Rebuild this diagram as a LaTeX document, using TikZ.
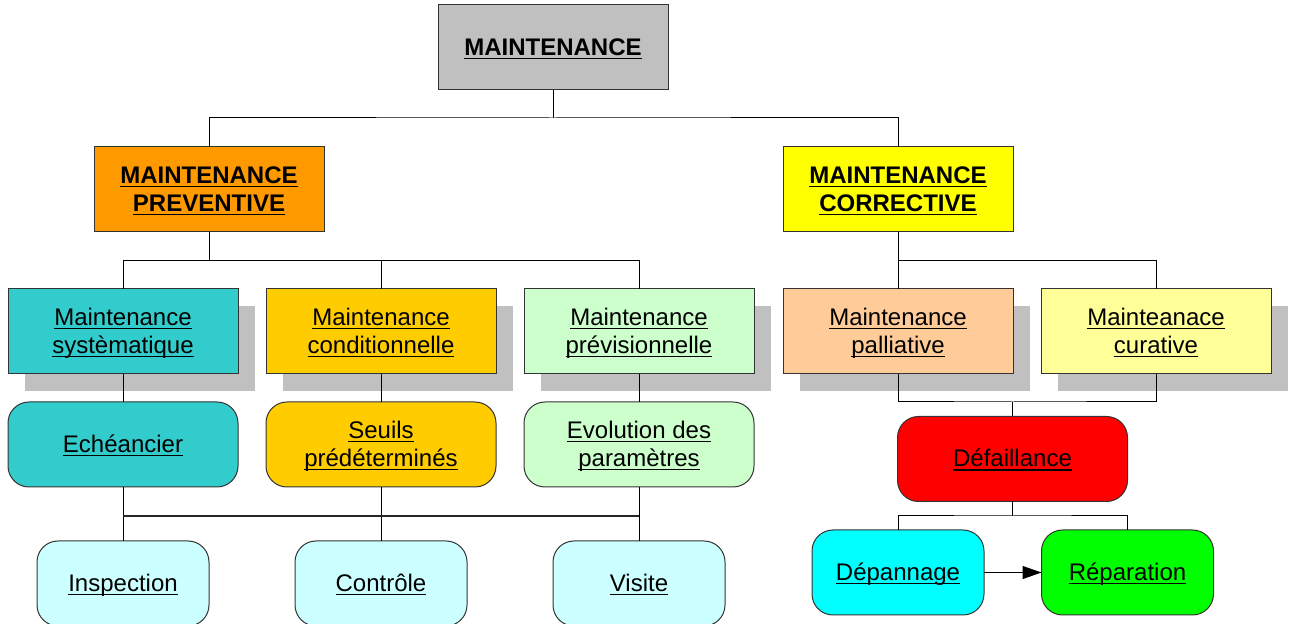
\documentclass[tikz,border=0pt]{standalone}
\usepackage{fontspec}
\setmainfont{Liberation Sans}
\usetikzlibrary{shadows,arrows.meta}
\definecolor{topgray}{HTML}{C0C0C0}
\definecolor{shadowgray}{HTML}{C0C0C0}
\definecolor{prevorange}{HTML}{FF9900}
\definecolor{corryellow}{HTML}{FFFF00}
\definecolor{systeal}{HTML}{33CCCC}
\definecolor{condgold}{HTML}{FFCC00}
\definecolor{prevgreen}{HTML}{CCFFCC}
\definecolor{pallpeach}{HTML}{FFCC99}
\definecolor{curlight}{HTML}{FFFF99}
\definecolor{defred}{HTML}{FF0000}
\definecolor{lightcyan}{HTML}{CCFFFF}
\definecolor{depcyan}{HTML}{00FFFF}
\definecolor{repgreen}{HTML}{00FF00}
\newcommand\ulin[1]{\setbox0=\hbox{#1}\rlap{\rule[-2.1pt]{\wd0}{0.75pt}}\box0\rule[-3.2pt]{0pt}{14pt}}
\begin{document}
\begin{tikzpicture}[x=0.5pt,y=-0.5pt,
  font=\fontsize{12}{14}\selectfont,
  box/.style={draw=black!80, line width=0.5pt, minimum width=115pt, minimum height=42.5pt,
    inner sep=0pt, outer sep=0pt, align=center},
  shad/.style={drop shadow={shadow xshift=8.5pt, shadow yshift=-8.5pt, fill=shadowgray, opacity=1, draw=none}},
  rbox/.style={box, rounded corners=10.5pt},
  narrow/.style={minimum width=86pt},
  conn/.style={draw=black, line width=0.5pt},
  bar/.style={draw=black!85, line width=1pt}]
\useasboundingbox (0,0) rectangle (1291,624);

% level 0 and 1
\node[box, fill=topgray] (top) at (553,47.5) {\bfseries\ulin{MAINTENANCE}};
\node[box, fill=prevorange] (prev) at (209,189.5) {\bfseries\ulin{MAINTENANCE}\\\bfseries\ulin{PREVENTIVE}};
\node[box, fill=corryellow] (corr) at (898,189.5) {\bfseries\ulin{MAINTENANCE}\\\bfseries\ulin{CORRECTIVE}};

% level 2
\node[box, shad, fill=systeal] (sys) at (123,331.5) {\ulin{Maintenance}\\\ulin{systèmatique}};
\node[box, shad, fill=condgold] (cond) at (381,331.5) {\ulin{Maintenance}\\\ulin{conditionnelle}};
\node[box, shad, fill=prevgreen] (previs) at (639,331.5) {\ulin{Maintenance}\\\ulin{prévisionnelle}};
\node[box, shad, fill=pallpeach] (pall) at (898,331.5) {\ulin{Maintenance}\\\ulin{palliative}};
\node[box, shad, fill=curlight] (cur) at (1156,331.5) {\ulin{Mainteanace}\\\ulin{curative}};

% level 3
\node[rbox, fill=systeal] (ech) at (123,444.5) {\ulin{Echéancier}};
\node[rbox, fill=condgold] (seu) at (381,444.5) {\ulin{Seuils}\\\ulin{prédéterminés}};
\node[rbox, fill=prevgreen] (evo) at (639,444.5) {\ulin{Evolution des}\\\ulin{paramètres}};
\node[rbox, fill=defred] (def) at (1012.5,459) {\ulin{Défaillance}};

% level 4
\node[rbox, narrow, fill=lightcyan] (insp) at (123,583.5) {\ulin{Inspection}};
\node[rbox, narrow, fill=lightcyan] (ctl) at (381,583.5) {\ulin{Contrôle}};
\node[rbox, narrow, fill=lightcyan] (vis) at (639,583.5) {\ulin{Visite}};
\node[rbox, narrow, fill=depcyan] (dep) at (898,572.5) {\ulin{Dépannage}};
\node[rbox, narrow, fill=repgreen] (rep) at (1127.5,572.5) {\ulin{Réparation}};

% junctions
\coordinate (j1) at (553,118);
\coordinate (j2) at (209,261);
\coordinate (j3) at (898,261);
\coordinate (j4a) at (123,516);
\coordinate (j4b) at (639,516);
\coordinate (j5) at (1012.5,402);
\coordinate (j6) at (1012.5,516);

% connectors
\draw[conn] (top.south) -- (j1);
\draw[conn] (prev.north) |- (j1) -| (corr.north);
\draw[conn] (prev.south) -- (j2);
\draw[conn] (sys.north) |- (j2);
\draw[conn] (cond.north) |- (j2);
\draw[conn] (previs.north) |- (j2);
\draw[conn] (corr.south) -- (j3);
\draw[conn] (pall.north) -- (j3);
\draw[conn] (cur.north) |- (j3);
\draw[conn] (sys.south) -- (ech.north);
\draw[conn] (cond.south) -- (seu.north);
\draw[conn] (previs.south) -- (evo.north);
\draw[conn] (ech.south) -- (insp.north);
\draw[conn] (seu.south) -- (ctl.north);
\draw[conn] (evo.south) -- (vis.north);
\draw[bar] (j4a) -- (j4b);
\draw[conn] (pall.south) |- (j5) -| (cur.south);
\draw[conn] (j5) -- (def.north);
\draw[conn] (def.south) -- (j6);
\draw[conn] (dep.north) |- (j6) -| (rep.north);
\draw[conn, -{Triangle[length=9.5pt,width=6.5pt]}] (dep.east) -- (rep.west);
\end{tikzpicture}
\end{document}
